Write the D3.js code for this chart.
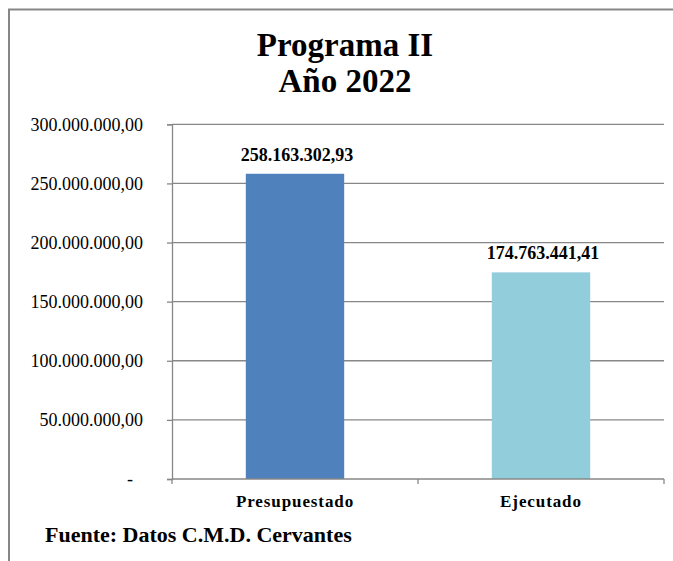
<!DOCTYPE html>
<html>
<head>
<meta charset="utf-8">
<script src="https://cdn.jsdelivr.net/npm/d3@7"></script>
<style>
  body { margin: 0; background: #fff; }
  svg text { font-family: "Liberation Serif", "Times New Roman", serif; fill: #000; }
</style>
</head>
<body>
<div id="chart"></div>
<script>
// data
const categories = ["Presupuestado", "Ejecutado"];
const values = [258163302.93, 174763441.41];
const valueLabels = ["258.163.302,93", "174.763.441,41"];
const yTicks = [0, 50000000, 100000000, 150000000, 200000000, 250000000, 300000000];
const yTickLabels = ["-", "50.000.000,00", "100.000.000,00", "150.000.000,00", "200.000.000,00", "250.000.000,00", "300.000.000,00"];
const barColors = ["#4F81BD", "#92CDDC"];

const W = 673, H = 561;
const margin = {top: 124.3, right: 9, bottom: 82, left: 172};
const width = W - margin.left - margin.right;
const height = H - margin.top - margin.bottom;
const serif = '"Liberation Serif", "Times New Roman", serif';

const root = d3.select("#chart").append("svg")
    .attr("width", W)
    .attr("height", H);

// outer frame (only top and left visible)
root.append("path")
    .attr("d", "M9,561 V9.5 H673")
    .attr("fill", "none")
    .attr("stroke", "#878787")
    .attr("stroke-width", 2);

// title
const title = root.append("text")
    .attr("x", 345)
    .attr("text-anchor", "middle")
    .style("font-family", serif)
    .style("font-size", "33px")
    .style("font-weight", "bold");
title.append("tspan").attr("x", 345).attr("y", 56).text("Programa II");
title.append("tspan").attr("x", 345).attr("y", 92).text("Año 2022");

const svg = root.append("g")
    .attr("transform", `translate(${margin.left},${margin.top})`);

// scales
const x = d3.scaleBand()
    .domain(categories)
    .range([0, width])
    .paddingInner(0.6)
    .paddingOuter(0.3);

const y = d3.scaleLinear()
    .domain([0, 300000000])
    .range([height, 0]);

// gridlines
svg.append("g")
    .selectAll("line")
    .data(yTicks.slice(1))
    .enter()
    .append("line")
    .attr("x1", 0)
    .attr("x2", width)
    .attr("y1", d => y(d))
    .attr("y2", d => y(d))
    .attr("stroke", "#878787")
    .attr("stroke-width", 1.3);

// y axis
const yAxis = svg.append("g")
    .call(d3.axisLeft(y)
        .tickValues(yTicks)
        .tickSize(5)
        .tickPadding(24)
        .tickFormat((d, i) => yTickLabels[i]))
    .attr("font-family", null)
    .attr("font-size", null);
yAxis.select(".domain").attr("stroke", "#878787").attr("stroke-width", 1.3);
yAxis.selectAll(".tick line").attr("stroke", "#878787").attr("stroke-width", 1.3);
yAxis.selectAll(".tick text")
    .style("font-family", serif)
    .style("font-size", "18px")
    .attr("dy", "0.32em")
    .attr("dx", d => d === 0 ? -10 : 0);

// bars
svg.selectAll(".bar")
    .data(values)
    .enter()
    .append("rect")
    .attr("class", "bar")
    .attr("x", (d, i) => x(categories[i]))
    .attr("width", x.bandwidth())
    .attr("y", d => y(d))
    .attr("height", d => height - y(d))
    .attr("fill", (d, i) => barColors[i]);

// value labels
svg.selectAll(".val")
    .data(values)
    .enter()
    .append("text")
    .attr("class", "val")
    .attr("x", (d, i) => x(categories[i]) + x.bandwidth() / 2 + 2)
    .attr("y", d => y(d) - 13)
    .attr("text-anchor", "middle")
    .style("font-family", serif)
    .style("font-size", "18px")
    .style("font-weight", "bold")
    .text((d, i) => valueLabels[i]);

// x axis line and category boundary ticks
const step = x.step();
svg.append("line")
    .attr("x1", 0).attr("x2", width)
    .attr("y1", height).attr("y2", height)
    .attr("stroke", "#878787")
    .attr("stroke-width", 1.3);
svg.selectAll(".xtick")
    .data(d3.range(categories.length + 1))
    .enter()
    .append("line")
    .attr("class", "xtick")
    .attr("x1", i => i * step)
    .attr("x2", i => i * step)
    .attr("y1", height)
    .attr("y2", height + 5)
    .attr("stroke", "#878787")
    .attr("stroke-width", 1.3);

// category labels
svg.selectAll(".cat")
    .data(categories)
    .enter()
    .append("text")
    .attr("class", "cat")
    .attr("x", d => x(d) + x.bandwidth() / 2)
    .attr("y", height + 28)
    .attr("text-anchor", "middle")
    .style("font-family", serif)
    .style("font-size", "17px")
    .style("font-weight", "bold")
    .style("letter-spacing", "0.9px")
    .text(d => d);

// source note
root.append("text")
    .attr("x", 45)
    .attr("y", 542)
    .style("font-family", serif)
    .style("font-size", "22px")
    .style("font-weight", "bold")
    .text("Fuente: Datos C.M.D. Cervantes");
</script>
</body>
</html>
